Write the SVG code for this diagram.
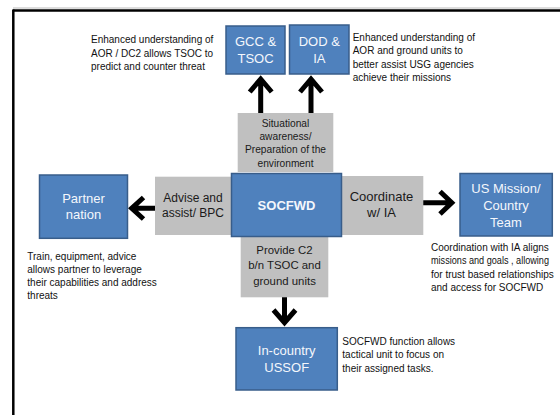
<svg xmlns="http://www.w3.org/2000/svg" width="560" height="415" viewBox="0 0 560 415">
<style>
.box{fill:#4F81BD;stroke:#385D8A;stroke-width:1.5}
.lbl{fill:#C0C0C0}
.bt{font-family:"Liberation Sans",Arial,sans-serif;font-size:13px;fill:#F4F7FC;text-anchor:middle}
.gt{font-family:"Liberation Sans",Arial,sans-serif;fill:#1A1A1A;text-anchor:middle}
.note{font-family:"Liberation Sans",Arial,sans-serif;font-size:10px;fill:#111}
.arr{fill:none;stroke:#000;stroke-width:5;stroke-linejoin:miter;stroke-miterlimit:10}
</style>
<rect width="560" height="415" fill="#fff"/>
<g id="frame">
<line x1="13" y1="8" x2="560" y2="8" stroke="#bbb" stroke-width="1"/>
<line x1="13" y1="10.5" x2="560" y2="10.5" stroke="#000" stroke-width="2.5"/>
<line x1="13.3" y1="9.5" x2="13.3" y2="415" stroke="#000" stroke-width="2.5"/>
</g>
<g id="connectors">
<path class="arr" d="M260.7,113 V82 M249.7,92 L260.7,79 L271.7,92"/>
<path class="arr" d="M311,113 V82 M300,92 L311,79 L322,92"/>
<path class="arr" d="M155,208.3 H134 M143.5,197.5 L131.7,208.3 L143.5,219"/>
<path class="arr" d="M423,202.7 H448 M440,191.5 L451.8,202.7 L440,214"/>
<path class="arr" d="M284.5,297 V319 M273.5,310 L284.5,322.7 L295.5,310"/>
</g>
<g id="situational">
<rect class="lbl" x="237.7" y="113" width="95.6" height="59"/>
<text class="gt" font-size="10.2" x="285.5"><tspan x="285.5" y="126.7">Situational</tspan><tspan x="285.5" y="140">awareness/</tspan><tspan x="285.5" y="153.3">Preparation of the</tspan><tspan x="285.5" y="166.7">environment</tspan></text>
</g>
<g id="advise">
<rect class="lbl" x="155" y="176.7" width="77" height="58.3"/>
<text class="gt" font-size="12"><tspan x="193" y="201.7">Advise and</tspan><tspan x="193" y="217.3">assist/ BPC</tspan></text>
</g>
<g id="coordinate">
<rect class="lbl" x="341" y="176" width="82.3" height="59"/>
<text class="gt" font-size="13"><tspan x="381.5" y="200.7">Coordinate</tspan><tspan x="381.5" y="217.3">w/ IA</tspan></text>
</g>
<g id="provide">
<rect class="lbl" x="240.7" y="236" width="87.6" height="61.3"/>
<text class="gt" font-size="11.4"><tspan x="284.5" y="254">Provide C2</tspan><tspan x="284.5" y="269.3">b/n TSOC and</tspan><tspan x="284.5" y="285">ground units</tspan></text>
</g>
<g id="socfwd">
<rect class="box" x="231.5" y="173.5" width="110" height="63"/>
<text class="bt" x="286.5" y="210" font-weight="bold">SOCFWD</text>
</g>
<g id="gcc">
<rect class="box" x="226" y="26" width="59" height="48"/>
<text class="bt"><tspan x="255.5" y="46">GCC &amp;</tspan><tspan x="255.5" y="63">TSOC</tspan></text>
</g>
<g id="dod">
<rect class="box" x="289.5" y="25" width="59.5" height="49"/>
<text class="bt"><tspan x="319.3" y="46">DOD &amp;</tspan><tspan x="319.3" y="63">IA</tspan></text>
</g>
<g id="partner">
<rect class="box" x="39.5" y="175" width="88" height="63.3"/>
<text class="bt"><tspan x="83.5" y="202.7">Partner</tspan><tspan x="83.5" y="219.3">nation</tspan></text>
</g>
<g id="usmission">
<rect class="box" x="460" y="173.5" width="92.3" height="62.5"/>
<text class="bt" font-size="12.5"><tspan x="506" y="193.3">US Mission/</tspan><tspan x="506" y="210">Country</tspan><tspan x="506" y="226.7">Team</tspan></text>
</g>
<g id="ussof">
<rect class="box" x="236" y="327.7" width="101.3" height="62.3"/>
<text class="bt"><tspan x="286.7" y="355">In-country</tspan><tspan x="286.7" y="371.7">USSOF</tspan></text>
</g>
<g id="notes">
<text class="note" font-size="10.3"><tspan x="91" y="43.3">Enhanced understanding of</tspan><tspan x="91" y="56.7">AOR / DC2 allows TSOC to</tspan><tspan x="91" y="70">predict and counter threat</tspan></text>
<text class="note" font-size="10.3"><tspan x="352.7" y="40.5">Enhanced understanding of</tspan><tspan x="352.7" y="54">AOR  and ground units to</tspan><tspan x="352.7" y="67.5">better assist USG agencies</tspan><tspan x="352.7" y="81">achieve their missions</tspan></text>
<text class="note"><tspan x="27.3" y="259.5">Train, equipment, advice</tspan><tspan x="27.3" y="272.8">allows partner to leverage</tspan><tspan x="27.3" y="286.1">their capabilities and address</tspan><tspan x="27.3" y="299.4">threats</tspan></text>
<text class="note" font-size="9.3"><tspan x="431" y="251">Coordination with IA aligns</tspan></text>
<text class="note" font-size="9.3" x="431" y="264.3" textLength="118" lengthAdjust="spacingAndGlyphs">missions and goals , allowing</text>
<text class="note" font-size="9.3"><tspan x="431" y="277.6">for trust based relationships</tspan><tspan x="431" y="290.9">and access for SOCFWD</tspan></text>
<text class="note" font-size="9.8"><tspan x="342.3" y="345">SOCFWD function allows</tspan><tspan x="342.3" y="358.3">tactical unit to focus on</tspan><tspan x="342.3" y="371.7">their assigned tasks.</tspan></text>
</g>
</svg>
